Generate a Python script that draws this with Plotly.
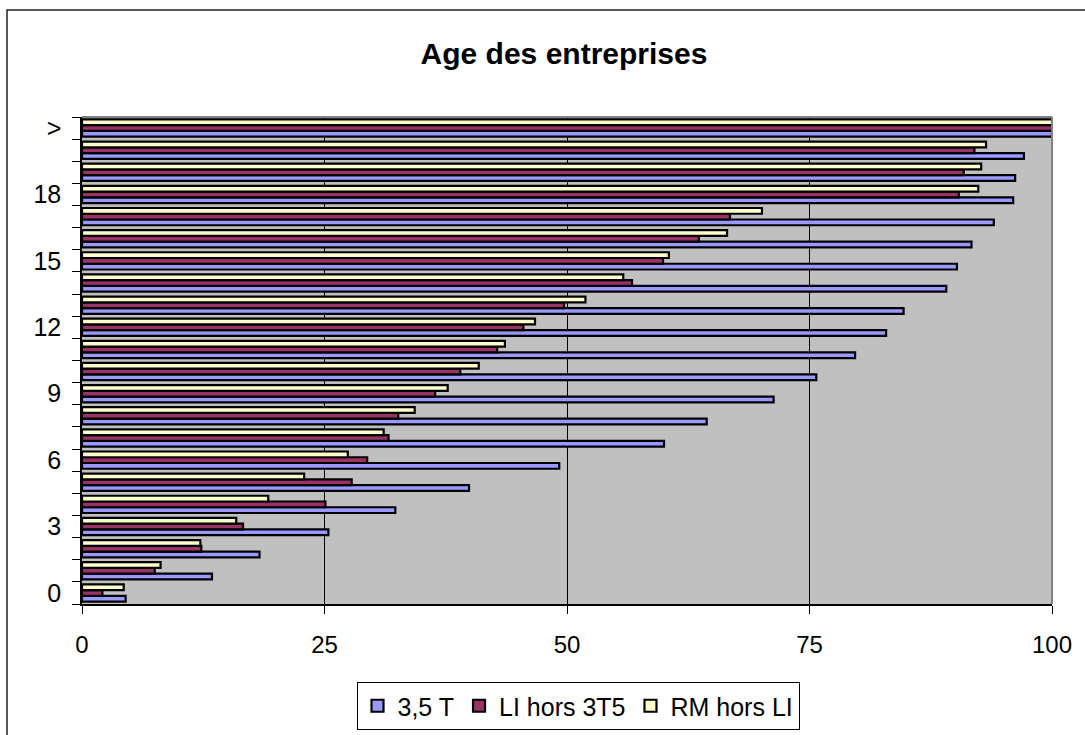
import plotly.graph_objects as go

# Age categories (years), bottom to top
categories = ["0", "1", "2", "3", "4", "5", "6", "7", "8", "9", "10",
              "11", "12", "13", "14", "15", "16", "17", "18", "19", "20", ">"]

# Cumulative shares (%) per series
serie_35t = [4.5, 13.4, 18.3, 25.4, 32.3, 39.9, 49.2, 60.0, 64.4, 71.3, 75.7,
             79.7, 82.9, 84.7, 89.1, 90.2, 91.7, 94.0, 96.0, 96.2, 97.1, 100]
serie_li = [2.1, 7.5, 12.3, 16.6, 25.1, 27.8, 29.4, 31.6, 32.6, 36.4, 39.0,
            42.8, 45.5, 49.7, 56.7, 59.9, 63.6, 66.8, 90.4, 90.9, 92.0, 100]
serie_rm = [4.3, 8.1, 12.2, 15.9, 19.2, 22.9, 27.4, 31.1, 34.3, 37.7, 40.9,
            43.6, 46.7, 51.9, 55.8, 60.5, 66.5, 70.1, 92.4, 92.7, 93.2, 100]

series_names = ["3,5 T", "LI hors 3T5", "RM hors LI"]
series_colors = ["#9999FF", "#993366", "#FFFFCC"]

x_ticks = [0, 25, 50, 75, 100]
label_step = 3

positions = list(range(len(categories)))
label_pos = positions[::label_step]
label_text = categories[::label_step]

FONT = "Liberation Sans, Arial, sans-serif"

fig = go.Figure()
for name, vals, col in zip(series_names, [serie_35t, serie_li, serie_rm], series_colors):
    fig.add_trace(go.Bar(
        x=vals, y=positions, orientation="h", name=name,
        marker=dict(color=col, line=dict(color="black", width=2.2)),
    ))

# chart-area frame (extends past the visible page on the right and bottom)
W = 1085 - 82 - 33
H = 735 - 117 - 131
fig.add_shape(type="rect", xref="paper", yref="paper",
              x0=(7 - 82) / W, x1=(1200 - 82) / W,
              y0=(604 - 800) / H, y1=(604 - 10) / H,
              line=dict(color="#222222", width=1.5), fillcolor="rgba(0,0,0,0)",
              layer="below")
# grey top/right edges of the plot area
fig.add_shape(type="line", xref="paper", yref="paper", x0=0, x1=1, y0=1, y1=1,
              line=dict(color="#808080", width=2))
fig.add_shape(type="line", xref="paper", yref="paper", x0=1, x1=1, y0=0, y1=1,
              line=dict(color="#808080", width=2))

fig.update_layout(
    width=1085, height=735,
    margin=dict(l=82, r=33, t=117, b=131),
    paper_bgcolor="white",
    plot_bgcolor="#C0C0C0",
    barmode="group",
    bargap=0.22,
    bargroupgap=0,
    title=dict(text="<b>Age des entreprises</b>", x=564 / 1085, xanchor="center",
               y=1 - 53 / 735, yanchor="middle",
               font=dict(family=FONT, size=30, color="black")),
    font=dict(family=FONT, color="black"),
    showlegend=True,
    legend=dict(orientation="h", x=578 / 1085, xanchor="center", xref="container",
                y=1 - 706 / 735, yanchor="middle", yref="container",
                bgcolor="white", bordercolor="black", borderwidth=1,
                font=dict(family=FONT, size=25, color="black"),
                traceorder="normal", itemwidth=30),
)

fig.update_xaxes(
    range=[0, 100], tickvals=x_ticks, ticks="outside", ticklen=8,
    tickcolor="black", tickfont=dict(size=24, family=FONT, color="black"),
    showgrid=True, gridcolor="black", gridwidth=1,
    showline=True, linecolor="black", linewidth=1.5,
    zeroline=False, fixedrange=True, ticklabelstandoff=10,
)
fig.update_yaxes(
    range=[-0.5, len(categories) - 0.5],
    tickmode="array", tickvals=label_pos, ticktext=label_text,
    ticks="", showgrid=False,
    tickfont=dict(size=25, family=FONT, color="black"),
    showline=True, linecolor="black", linewidth=1.5, zeroline=False,
    ticklabelstandoff=14,
    minor=dict(tickmode="linear", tick0=-0.5, dtick=1, ticks="outside",
               ticklen=8, tickcolor="black", showgrid=False),
)

fig.write_html("out.html")
